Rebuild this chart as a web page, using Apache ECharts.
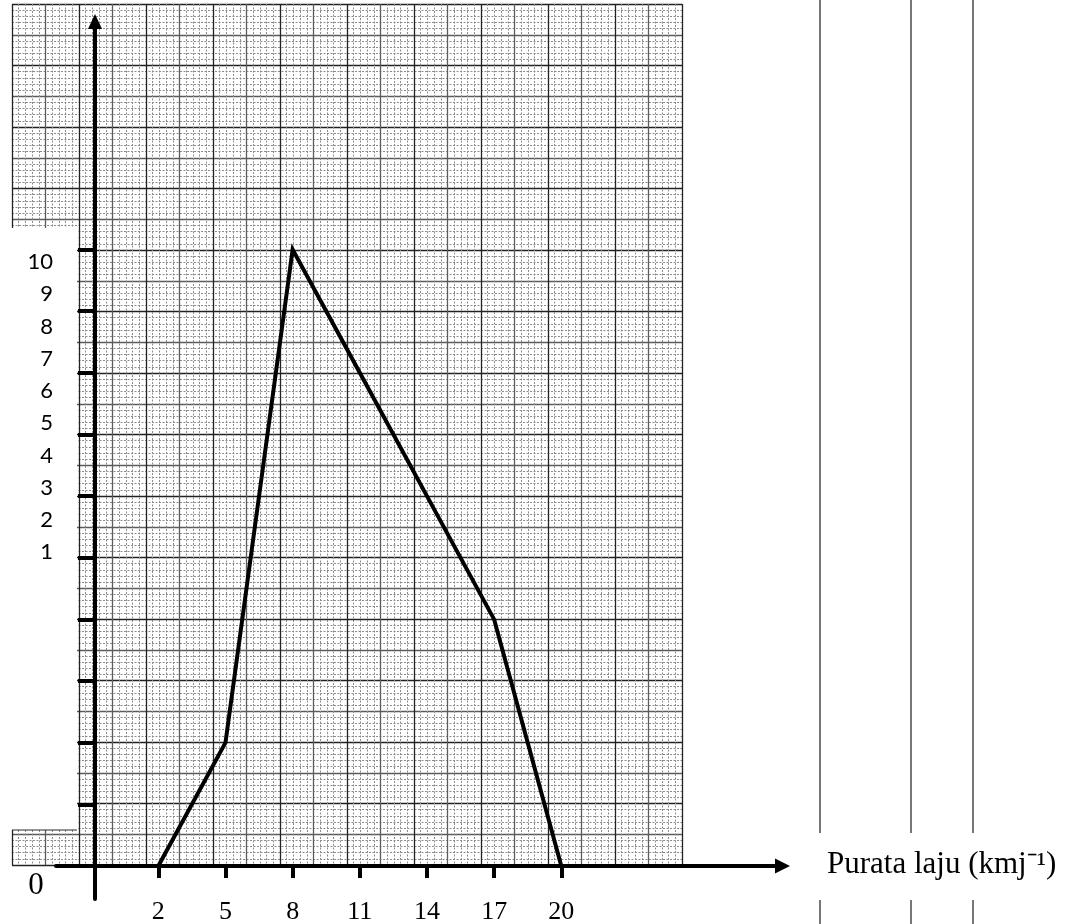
<!DOCTYPE html>
<html>
<head>
<meta charset="utf-8">
<script src="https://cdn.jsdelivr.net/npm/echarts@6/dist/echarts.min.js"></script>
<style>
  html, body { margin: 0; padding: 0; background: #ffffff; }
  #chart { width: 1079px; height: 924px; }
</style>
</head>
<body>
<div id="chart"></div>
<script>
// Frequency polygon: average speed (class midpoints) against frequency
const speeds = [2, 5, 8, 11, 14, 17, 20];
const frequencies = [0, 2, 10, 8, 6, 4, 0];

// Tick marks and tick labels
const xTickValues = [2, 5, 8, 11, 14, 17, 20];
const yTickValues = [1, 2, 3, 4, 5, 6, 7, 8, 9, 10];
const yLabelValues = [1, 2, 3, 4, 5, 6, 7, 8, 9, 10];
const originLabel = '0';
const xAxisTitle = 'Purata laju (kmj\u207B\u00B9)';

const chart = echarts.init(document.getElementById('chart'), null, { renderer: 'canvas' });

const polygonData = speeds.map((s, i) => [s, frequencies[i]]);

const paperSplit = { show: true, lineStyle: { color: ['#222222', '#5c5c5c'], width: 1.3 } };
const paperMinor = { show: true, lineStyle: { color: '#8c8c8c', width: 1, type: [2, 1.5] } };

const option = {
  animation: false,
  backgroundColor: '#ffffff',
  grid: [
    // graph paper
    { left: 12, top: 4, width: 670, height: 861, outerBoundsMode: 'none', containLabel: false },
    // plotting axes
    { left: 56, top: 21.5, width: 726.5, height: 877.5, outerBoundsMode: 'none', containLabel: false },
    // frequency labels column
    { left: 56, top: 21.5, width: 726.5, height: 877.5, outerBoundsMode: 'none', containLabel: false }
  ],
  xAxis: [
    {
      gridIndex: 0, type: 'value', min: 0, max: 20, interval: 1, silent: true, z: 0,
      axisLine: { show: false }, axisTick: { show: false }, axisLabel: { show: false },
      splitLine: paperSplit,
      minorTick: { show: false, splitNumber: 5 },
      minorSplitLine: paperMinor
    },
    {
      gridIndex: 1, type: 'value', min: -2.569, max: 29.879, z: 3,
      axisLine: {
        show: true, onZero: true,
        lineStyle: { color: '#000', width: 4 },
        symbol: ['none', 'triangle'], symbolSize: [15, 15]
      },
      axisTick: { show: true, customValues: xTickValues, length: 12, lineStyle: { color: '#000', width: 4 } },
      axisLabel: {
        show: true, customValues: xTickValues, margin: 0,
        fontFamily: 'Liberation Serif', fontSize: 26, color: '#000'
      },
      splitLine: { show: false }
    },
    { gridIndex: 2, type: 'value', min: 0, max: 1, show: false }
  ],
  yAxis: [
    {
      gridIndex: 0, type: 'value', min: 0, max: 28, interval: 1, silent: true, z: 0,
      axisLine: { show: false }, axisTick: { show: false }, axisLabel: { show: false },
      splitLine: paperSplit,
      minorTick: { show: false, splitNumber: 5 },
      minorSplitLine: paperMinor
    },
    {
      gridIndex: 1, type: 'value', min: -0.535, max: 13.698, offset: -39, z: 3,
      axisLine: {
        show: true, onZero: false,
        lineStyle: { color: '#000', width: 4 },
        symbol: ['none', 'triangle'], symbolSize: [14, 15]
      },
      axisTick: { show: true, customValues: yTickValues, length: 17, lineStyle: { color: '#000', width: 4 } },
      axisLabel: { show: false },
      splitLine: { show: false }
    },
    {
      gridIndex: 2, type: 'value', min: -9.757, max: 17.465, z: 3,
      axisLine: { show: false }, axisTick: { show: false }, splitLine: { show: false },
      axisLabel: {
        show: true, customValues: yLabelValues, margin: 3,
        fontFamily: 'Lato', fontSize: 22, color: '#000'
      }
    }
  ],
  series: [
    {
      type: 'line',
      xAxisIndex: 1, yAxisIndex: 1,
      data: polygonData,
      symbol: 'none',
      clip: false,
      z: 4,
      lineStyle: { color: '#000', width: 4, join: 'miter' }
    }
  ],
  graphic: [
    // blank strip left of the paper where the labels sit
    { type: 'rect', z: 1, shape: { x: 0, y: 228, width: 77, height: 602 }, style: { fill: '#ffffff' } },
    { type: 'line', z: 1, shape: { x1: 12, y1: 830, x2: 77, y2: 830 }, style: { stroke: '#2a2a2a', lineWidth: 1.2 } },
    // origin label
    {
      type: 'text', z: 5, x: 36, y: 886,
      style: { text: originLabel, font: '31px "Liberation Serif"', fill: '#000', align: 'center', verticalAlign: 'middle' }
    },
    // horizontal axis title
    {
      type: 'text', z: 5, x: 827, y: 865,
      style: { text: xAxisTitle, font: '31px "Liberation Serif"', fill: '#000', align: 'left', verticalAlign: 'middle' }
    },
    // table rules on the right
    { type: 'line', z: 1, shape: { x1: 820, y1: 0, x2: 820, y2: 833 }, style: { stroke: '#4a4a4a', lineWidth: 1.5 } },
    { type: 'line', z: 1, shape: { x1: 911, y1: 0, x2: 911, y2: 833 }, style: { stroke: '#4a4a4a', lineWidth: 1.5 } },
    { type: 'line', z: 1, shape: { x1: 973, y1: 0, x2: 973, y2: 833 }, style: { stroke: '#4a4a4a', lineWidth: 1.5 } },
    { type: 'line', z: 1, shape: { x1: 820, y1: 900, x2: 820, y2: 924 }, style: { stroke: '#4a4a4a', lineWidth: 1.5 } },
    { type: 'line', z: 1, shape: { x1: 911, y1: 900, x2: 911, y2: 924 }, style: { stroke: '#4a4a4a', lineWidth: 1.5 } },
    { type: 'line', z: 1, shape: { x1: 973, y1: 900, x2: 973, y2: 924 }, style: { stroke: '#4a4a4a', lineWidth: 1.5 } }
  ]
};

chart.setOption(option);
</script>
</body>
</html>
